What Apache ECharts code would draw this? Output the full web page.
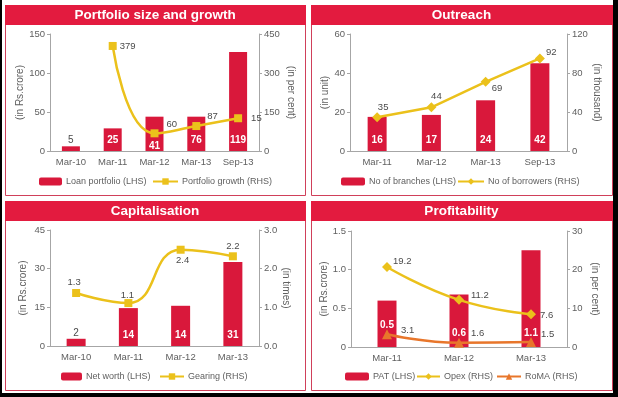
<!DOCTYPE html>
<html>
<head>
<meta charset="utf-8">
<script src="https://cdn.jsdelivr.net/npm/echarts@6/dist/echarts.min.js"></script>
<style>
html,body{margin:0;padding:0;background:#000;}
#chart{width:618px;height:397px;}
</style>
</head>
<body>
<div id="chart"></div>
<script>
// Portfolio size and growth
var portCats = ['Mar-10', 'Mar-11', 'Mar-12', 'Mar-13', 'Sep-13'];
var loanPortfolio = [6, 29, 44, 44, 127];
var loanLabels = ['5', '25', '41', '76', '119'];
var portGrowth = [null, 404, 68, 96, 126];
var growthLabels = ['', '379', '60', '87', '15'];

// Outreach
var outCats = ['Mar-11', 'Mar-12', 'Mar-13', 'Sep-13'];
var branches = [17.5, 18.5, 26, 45];
var branchLabels = ['16', '17', '24', '42'];
var borrowers = [34.6, 44.8, 71, 95];
var borrowerLabels = ['35', '44', '69', '92'];

// Capitalisation
var capCats = ['Mar-10', 'Mar-11', 'Mar-12', 'Mar-13'];
var netWorth = [2.8, 14.7, 15.6, 32.6];
var netWorthLabels = ['2', '14', '14', '31'];
var gearing = [1.37, 1.11, 2.49, 2.32];
var gearingLabels = ['1.3', '1.1', '2.4', '2.2'];

// Profitability
var profCats = ['Mar-11', 'Mar-12', 'Mar-13'];
var pat = [0.6, 0.68, 1.25];
var patLabels = ['0.5', '0.6', '1.1'];
var opex = [20.7, 12.2, 8.5];
var opexLabels = ['19.2', '11.2', '7.6'];
var roma = [3.3, 1.1, 1.3];
var romaLabels = ['3.1', '1.6', '1.5'];

var FONT = '"Liberation Sans", Arial, sans-serif';
var RED = '#d9183b', GOLD = '#ebc11b', ORANGE = '#e8762b';
var GREY = '#606060', AXIS = '#a6a6a6';

function xAxis(grid, cats) {
	return {
		type: 'category', gridIndex: grid, data: cats,
		axisLine: { lineStyle: { color: AXIS } },
		axisTick: { length: 3, lineStyle: { color: AXIS } },
		axisLabel: { color: GREY, fontSize: 9.5, fontFamily: FONT, margin: 6, interval: 0 }
	};
}

function yAxis(grid, min, max, interval, name, right, gap, fmt) {
	return {
		type: 'value', gridIndex: grid, min: min, max: max, interval: interval,
		position: right ? 'right' : 'left',
		name: name, nameLocation: 'middle', nameRotate: right ? -90 : 90, nameGap: gap,
		nameTextStyle: { color: GREY, fontSize: 10, fontFamily: FONT },
		axisLine: { show: true, lineStyle: { color: AXIS } },
		axisTick: { show: true, length: 3, lineStyle: { color: AXIS } },
		splitLine: { show: false },
		axisLabel: { color: GREY, fontSize: 9.5, fontFamily: FONT, margin: 5, formatter: fmt }
	};
}

//bars: labels inside at the bottom, or above for the short ones
function barSeries(name, grid, values, labels, width, dist) {
	return {
		name: name, type: 'bar', xAxisIndex: grid, yAxisIndex: grid * 2, barWidth: width,
		itemStyle: { color: RED },
		data: values.map(function(v, i) {
			var lab = dist[i] < 0
				? { position: 'top', distance: 1, color: '#4a4a4a', fontWeight: 'normal' }
				: { position: 'insideBottom', distance: dist[i] };
			return { value: v, label: lab };
		}),
		label: {
			show: true, color: '#fff', fontWeight: 'bold', fontSize: 10, fontFamily: FONT,
			formatter: function(p) { return labels[p.dataIndex]; }
		}
	};
}

function lineSeries(name, grid, values, labels, symbol, size, color, smooth, places) {
	return {
		name: name, type: 'line', xAxisIndex: grid, yAxisIndex: grid * 2 + 1,
		symbol: symbol, symbolSize: size, smooth: smooth,
		lineStyle: { color: color, width: 2.5 },
		itemStyle: { color: color },
		data: values.map(function(v, i) {
			var pl = places[i];
			return { value: v, label: { position: pl[0], offset: [pl[1], pl[2]] } };
		}),
		label: {
			show: true, distance: 0, color: '#4a4a4a', fontSize: 9.5, fontFamily: FONT,
			formatter: function(p) { return labels[p.dataIndex]; }
		}
	};
}

function legendItem(name, left, top, w) {
	return {
		data: [name], left: left, top: top, padding: 0, itemGap: 0,
		itemWidth: w, itemHeight: 8, itemStyle: { borderWidth: 0 },
		textStyle: { color: GREY, fontSize: 9, fontFamily: FONT, padding: [0, 0, 0, -1] }
	};
}

var panels = [
	[5, 5, 300, 190, 'Portfolio size and growth'],
	[311, 5, 301, 190, 'Outreach'],
	[5, 201, 300, 189, 'Capitalisation'],
	[311, 201, 301, 189, 'Profitability']
];
var graphics = [{ type: 'rect', shape: { x: 2, y: 0, width: 611, height: 393 }, style: { fill: '#fff' }, z: -10 }];
panels.forEach(function(p) {
	graphics.push({ type: 'rect', shape: { x: p[0] + 0.5, y: p[1] + 0.5, width: p[2], height: p[3] },
		style: { fill: 'none', stroke: '#d0405a', lineWidth: 1 }, z: -5 });
	graphics.push({ type: 'rect', shape: { x: p[0], y: p[1], width: p[2] + 1, height: 20 },
		style: { fill: '#e31b3f' }, z: -4 });
	graphics.push({ type: 'text', x: p[0] + p[2] / 2, y: p[1] + 10.5, z: -3,
		style: { text: p[4], fill: '#fff', font: 'bold 13.5px ' + FONT, textAlign: 'center', textVerticalAlign: 'middle' } });
});

var option = {
	animation: false,
	graphic: graphics,
	grid: [
		{ left: 50, right: 359, top: 34, bottom: 246, outerBoundsMode: 'none' },
		{ left: 350, right: 51, top: 34, bottom: 246, outerBoundsMode: 'none' },
		{ left: 50, right: 359, top: 230, bottom: 51, outerBoundsMode: 'none' },
		{ left: 351, right: 51, top: 231, bottom: 50, outerBoundsMode: 'none' }
	],
	xAxis: [xAxis(0, portCats), xAxis(1, outCats), xAxis(2, capCats), xAxis(3, profCats)],
	yAxis: [
		yAxis(0, 0, 150, 50, '(in Rs.crore)', false, 24),
		yAxis(0, 0, 450, 150, '(in per cent)', true, 27),
		yAxis(1, 0, 60, 20, '(in unit)', false, 19),
		yAxis(1, 0, 120, 40, '(in thousand)', true, 21),
		yAxis(2, 0, 45, 15, '(in Rs.crore)', false, 22),
		yAxis(2, 0, 3, 1, '(in times)', true, 22, function(v) { return v.toFixed(1); }),
		yAxis(3, 0, 1.5, 0.5, '(in Rs.crore)', false, 22, function(v) { return v === 0 ? '0' : v.toFixed(1); }),
		yAxis(3, 0, 30, 10, '(in per cent)', true, 23)
	],
	legend: [
		legendItem('Loan portfolio (LHS)', 39, 177, 23),
		legendItem('Portfolio growth (RHS)', 152, 177, 25),
		legendItem('No of branches (LHS)', 341, 177, 24),
		legendItem('No of borrowers (RHS)', 457, 177, 26),
		legendItem('Net worth (LHS)', 61, 372, 21),
		legendItem('Gearing (RHS)', 159, 372, 24),
		legendItem('PAT (LHS)', 345, 372, 24),
		legendItem('Opex (RHS)', 416, 372, 23),
		legendItem('RoMA (RHS)', 496, 372, 24)
	],
	series: [
		barSeries('Loan portfolio (LHS)', 0, loanPortfolio, loanLabels, 18, [-1, 6, 0, 6, 6]),
		lineSeries('Portfolio growth (RHS)', 0, portGrowth, growthLabels, 'rect', 8, GOLD, true,
			[['right', 0, 0], ['right', 3, 0], ['right', 8, -9], ['right', 7, -10], ['right', 9, 0]]),
		barSeries('No of branches (LHS)', 1, branches, branchLabels, 19, [6, 6, 6, 6]),
		lineSeries('No of borrowers (RHS)', 1, borrowers, borrowerLabels, 'diamond', 10, GOLD, false,
			[['top', 6, 0], ['top', 5, -1], ['right', 1, 7], ['right', 1, -6]]),
		barSeries('Net worth (LHS)', 2, netWorth, netWorthLabels, 19, [-1, 6, 6, 6]),
		lineSeries('Gearing (RHS)', 2, gearing, gearingLabels, 'rect', 8, GOLD, true,
			[['top', -2, -2], ['top', -1, 1], ['bottom', 2, 2], ['top', 0, -1]]),
		barSeries('PAT (LHS)', 3, pat, patLabels, 19, [17, 9, 9]),
		lineSeries('Opex (RHS)', 3, opex, opexLabels, 'diamond', 10, GOLD, true,
			[['right', 1, -6], ['right', 7, -4], ['right', 4, 1]]),
		lineSeries('RoMA (RHS)', 3, roma, romaLabels, 'triangle', 10, ORANGE, true,
			[['right', 9, -4], ['right', 7, -9], ['right', 5, -8]])
	]
};

var myChart = echarts.init(document.getElementById('chart'));
myChart.setOption(option);
</script>
</body>
</html>
